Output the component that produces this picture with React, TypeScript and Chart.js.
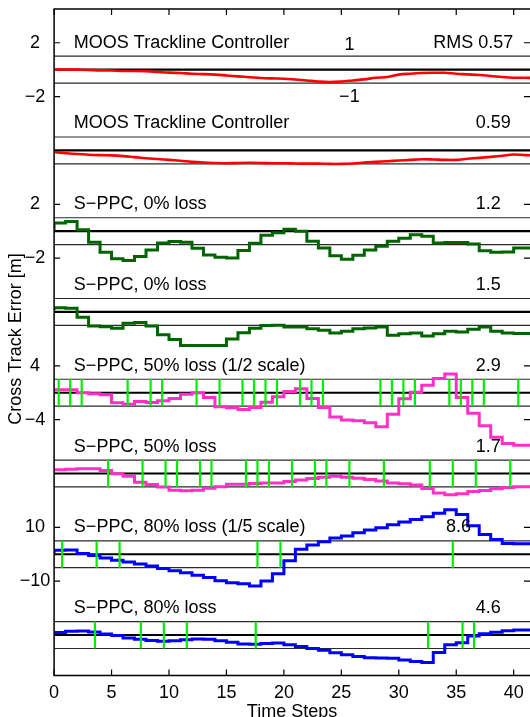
import React, { useEffect, useRef } from "react";
import { Chart, registerables } from "chart.js";

Chart.register(...registerables);

// ---------- data ----------
const TIME_STEPS = [0, 1, 2, 3, 4, 5, 6, 7, 8, 9, 10, 11, 12, 13, 14, 15, 16, 17, 18, 19, 20, 21, 22, 23, 24, 25, 26, 27, 28, 29, 30, 31, 32, 33, 34, 35, 36, 37, 38, 39, 40, 41, 42];

const PANEL_OFFSETS = [0, -6, -12, -18, -24, -30, -36, -42];

const PANEL_TITLES = [
  "MOOS Trackline Controller",
  "MOOS Trackline Controller",
  "S\u2212PPC, 0% loss",
  "S\u2212PPC, 0% loss",
  "S\u2212PPC, 50% loss (1/2 scale)",
  "S\u2212PPC, 50% loss",
  "S\u2212PPC, 80% loss (1/5 scale)",
  "S\u2212PPC, 80% loss",
];
const RMS_LABELS = ["RMS 0.57", "0.59", "1.2", "1.5", "2.9", "1.7", "8.6", "4.6"];
const RMS_LABEL_X = [33.0, 36.7, 36.7, 36.7, 36.7, 36.7, 34.1, 36.7];
const TITLE_X = 1.72;

// plotted values (display units, already scaled where noted)
const MOOS_RUN1 = [0.02, 0.01, 0, -0.02, -0.05, -0.06, -0.1, -0.1, -0.12, -0.17, -0.22, -0.25, -0.3, -0.33, -0.37, -0.43, -0.5, -0.56, -0.62, -0.65, -0.67, -0.73, -0.8, -0.88, -0.92, -0.88, -0.8, -0.72, -0.6, -0.55, -0.37, -0.3, -0.25, -0.23, -0.23, -0.3, -0.35, -0.4, -0.47, -0.55, -0.6, -0.6, -0.62];
const MOOS_RUN2 = [-0.12, -0.2, -0.27, -0.32, -0.35, -0.37, -0.42, -0.5, -0.58, -0.64, -0.7, -0.77, -0.85, -0.9, -0.93, -0.95, -0.93, -0.92, -0.93, -0.95, -0.95, -0.97, -0.98, -0.98, -1.0, -1.0, -0.97, -0.9, -0.85, -0.8, -0.75, -0.7, -0.65, -0.67, -0.7, -0.7, -0.62, -0.55, -0.48, -0.4, -0.3, -0.35, -0.37];
const SPPC_0_RUN1 = [0.1, 0.6, 0.72, 0.1, -0.82, -1.56, -2.05, -2.18, -1.88, -1.39, -0.87, -0.77, -0.82, -1.26, -1.76, -1.93, -2.0, -1.44, -0.89, -0.3, -0.12, 0.15, 0.0, -0.75, -1.25, -1.82, -2.08, -1.78, -1.4, -1.12, -0.75, -0.52, -0.27, -0.37, -0.88, -0.84, -0.84, -0.95, -1.45, -1.56, -1.55, -1.25, -1.25];
const SPPC_0_RUN2 = [0.15, 0.32, 0.27, -0.4, -1.04, -1.09, -1.21, -0.84, -0.79, -1.04, -1.7, -2.05, -2.5, -2.5, -2.5, -2.5, -2.0, -1.55, -1.21, -1.01, -0.98, -1.11, -1.11, -1.24, -1.36, -1.56, -1.44, -1.24, -1.19, -1.11, -1.73, -1.61, -1.56, -1.78, -1.61, -1.44, -1.49, -1.29, -1.11, -1.44, -1.56, -1.6, -1.6];
const SPPC_50_HALF = [0.12, 0.22, 0.22, 0.0, -0.08, -0.15, -0.75, -0.85, -0.65, -0.72, -0.6, -0.42, -0.12, 0.0, -0.35, -1.04, -1.12, -1.25, -1.1, -0.7, -0.3, 0.1, 0.3, -0.42, -1.1, -1.8, -2.03, -2.08, -2.23, -2.52, -1.6, -0.45, 0.03, 0.55, 1.06, 1.39, -0.35, -1.53, -2.45, -3.3, -3.78, -3.9, -3.9];
const SPPC_50 = [0.18, 0.28, 0.32, 0.35, 0.35, 0.22, -0.02, -0.2, -0.65, -0.82, -1.0, -1.25, -1.28, -1.25, -1.1, -0.98, -0.8, -0.8, -0.75, -0.7, -0.7, -0.6, -0.48, -0.38, -0.27, -0.2, -0.28, -0.36, -0.45, -0.55, -0.7, -0.77, -0.85, -1.12, -1.45, -1.58, -1.5, -1.33, -1.26, -1.14, -1.05, -0.98, -0.98];
const SPPC_80_FIFTH = [0.06, 0.3, 0.32, 0.05, -0.1, -0.28, -0.45, -0.57, -0.73, -0.88, -1.05, -1.23, -1.38, -1.56, -1.73, -1.97, -2.12, -2.2, -2.36, -1.98, -1.45, -0.48, 0.37, 0.68, 0.93, 1.2, 1.35, 1.6, 1.8, 1.97, 2.2, 2.4, 2.58, 2.78, 3.05, 3.3, 2.95, 2.12, 1.47, 1.1, 0.8, 0.78, 0.78];
const SPPC_80 = [0.0, 0.18, 0.28, 0.3, 0.22, 0.07, -0.03, -0.23, -0.32, -0.4, -0.47, -0.42, -0.36, -0.3, -0.32, -0.42, -0.53, -0.66, -0.68, -0.63, -0.6, -0.72, -0.85, -1.0, -1.14, -1.32, -1.47, -1.6, -1.68, -1.7, -1.72, -1.85, -1.97, -2.05, -1.3, -0.72, -0.58, -0.08, 0.1, 0.2, 0.32, 0.37, 0.37];

// packet-loss instants (green markers)
const LOSS_50_HALF = [0.4, 1.4, 2.4, 6.4, 8.4, 9.4, 12.4, 14.4, 16.4, 17.4, 18.4, 19.4, 21.4, 22.4, 23.4, 28.4, 29.4, 30.4, 31.4, 34.4, 35.4, 36.4, 37.4, 40.4];
const LOSS_50 = [4.7, 7.7, 9.7, 10.7, 12.7, 13.7, 16.7, 17.7, 18.7, 20.7, 22.7, 23.7, 25.7, 28.7, 32.7, 34.7, 36.7, 39.7];
const LOSS_80_FIFTH = [0.7, 3.7, 5.7, 17.7, 19.7, 34.7];
const LOSS_80 = [3.55, 7.55, 9.55, 11.55, 17.55, 32.55, 35.55, 36.55];

const X_MIN = 0;
const X_MAX = 41.42;
const Y_MIN = -45;
const Y_MAX = 4.5;
const X_TICK_VALUES = [0, 5, 10, 15, 20, 25, 30, 35, 40];
const Y_TICK_VALUES = [2, -2, -10, -14, -22, -26, -34, -38];
const Y_TICK_LABELS = ["2", "\u22122", "2", "\u22122", "4", "\u22124", "10", "\u221210"];
const BAND_NOTE_X = 25.7;
const BAND_NOTES = [
  { text: "1", y: 1.85 },
  { text: "\u22121", y: -2.05 },
];

const SERIES = [
  { vals: MOOS_RUN1, color: "#ff0000", stepped: false, width: 2.6 },
  { vals: MOOS_RUN2, color: "#ff0000", stepped: false, width: 2.6 },
  { vals: SPPC_0_RUN1, color: "#006400", stepped: true, width: 3 },
  { vals: SPPC_0_RUN2, color: "#006400", stepped: true, width: 3 },
  { vals: SPPC_50_HALF, color: "#ff2fc8", stepped: true, width: 3 },
  { vals: SPPC_50, color: "#ff2fc8", stepped: true, width: 3 },
  { vals: SPPC_80_FIFTH, color: "#0000ff", stepped: true, width: 3 },
  { vals: SPPC_80, color: "#0000ff", stepped: true, width: 3 },
];
const LOSS_BY_PANEL: (number[] | null)[] = [null, null, null, null, LOSS_50_HALF, LOSS_50, LOSS_80_FIFTH, LOSS_80];

const FONT = '18px "Liberation Sans", Arial, Helvetica, sans-serif';

const decorPlugin = {
  id: "decor",
  afterDraw(chart: any) {
    const { ctx, chartArea: a } = chart;
    const x = chart.scales.x;
    const y = chart.scales.y;
    ctx.save();
    // axes box (left, top, bottom)
    ctx.strokeStyle = "#000";
    ctx.lineWidth = 1.5;
    ctx.beginPath();
    ctx.moveTo(a.left, a.top);
    ctx.lineTo(a.right + 2, a.top);
    ctx.moveTo(a.left, a.top - 0.75);
    ctx.lineTo(a.left, a.bottom + 0.75);
    ctx.moveTo(a.left, a.bottom);
    ctx.lineTo(a.right + 2, a.bottom);
    ctx.stroke();
    // inward tick marks
    ctx.lineWidth = 1.2;
    ctx.beginPath();
    X_TICK_VALUES.forEach((v) => {
      const px = x.getPixelForValue(v);
      ctx.moveTo(px, a.top);
      ctx.lineTo(px, a.top + 6);
      ctx.moveTo(px, a.bottom);
      ctx.lineTo(px, a.bottom - 6);
    });
    Y_TICK_VALUES.forEach((v) => {
      const py = y.getPixelForValue(v);
      ctx.moveTo(a.left, py);
      ctx.lineTo(a.left + 6, py);
      ctx.moveTo(a.right, py);
      ctx.lineTo(a.right - 6, py);
    });
    ctx.stroke();

    ctx.fillStyle = "#000";
    ctx.font = FONT;
    // y tick labels
    ctx.textAlign = "center";
    ctx.textBaseline = "middle";
    Y_TICK_VALUES.forEach((v, i) => {
      ctx.fillText(Y_TICK_LABELS[i], a.left - 19.2, y.getPixelForValue(v));
    });
    // x tick labels
    X_TICK_VALUES.forEach((v) => {
      ctx.fillText(String(v), x.getPixelForValue(v), a.bottom + 17.6);
    });
    // panel titles and RMS values
    ctx.textAlign = "left";
    PANEL_OFFSETS.forEach((off, i) => {
      const py = y.getPixelForValue(off + 2);
      ctx.fillText(PANEL_TITLES[i], x.getPixelForValue(TITLE_X), py);
      ctx.fillText(RMS_LABELS[i], x.getPixelForValue(RMS_LABEL_X[i]), py);
    });
    // band notes (±1 m)
    ctx.textAlign = "center";
    BAND_NOTES.forEach((n) => {
      ctx.fillText(n.text, x.getPixelForValue(BAND_NOTE_X), y.getPixelForValue(PANEL_OFFSETS[0] + n.y));
    });
    // axis titles
    ctx.textBaseline = "alphabetic";
    ctx.fillText("Time Steps", (a.left + a.right) / 2, 717.3);
    ctx.save();
    ctx.translate(16.5, 339);
    ctx.rotate(-Math.PI / 2);
    ctx.textBaseline = "middle";
    ctx.fillText("Cross Track Error [m]", 0, 0);
    ctx.restore();
    ctx.restore();
  },
};

function buildDatasets() {
  const datasets: any[] = [];
  // green loss markers (on top)
  PANEL_OFFSETS.forEach((off, i) => {
    const loss = LOSS_BY_PANEL[i];
    if (!loss) return;
    const pts: any[] = [];
    loss.forEach((t) => {
      pts.push({ x: t, y: off + 1 }, { x: t, y: off - 1 }, { x: t, y: null });
    });
    datasets.push({
      data: pts,
      borderColor: "#00ee00",
      borderWidth: 2.2,
      pointRadius: 0,
      spanGaps: false,
      order: 0,
    });
  });
  // series
  PANEL_OFFSETS.forEach((off, i) => {
    const s = SERIES[i];
    datasets.push({
      data: TIME_STEPS.map((t, k) => ({ x: t, y: off + s.vals[k] })),
      borderColor: s.color,
      borderWidth: s.width,
      pointRadius: 0,
      stepped: s.stepped ? "after" : false,
      tension: s.stepped ? 0 : 0.35,
      borderJoinStyle: "miter",
      order: 1,
    });
  });
  // zero lines
  const zeroPts: any[] = [];
  const bandPts: any[] = [];
  PANEL_OFFSETS.forEach((off) => {
    zeroPts.push({ x: X_MIN, y: off }, { x: X_MAX + 1, y: off }, { x: X_MIN, y: null });
    bandPts.push({ x: X_MIN, y: off + 1 }, { x: X_MAX + 1, y: off + 1 }, { x: X_MIN, y: null });
    bandPts.push({ x: X_MIN, y: off - 1 }, { x: X_MAX + 1, y: off - 1 }, { x: X_MIN, y: null });
  });
  datasets.push({ data: zeroPts, borderColor: "#000", borderWidth: 2.2, pointRadius: 0, spanGaps: false, order: 2 });
  datasets.push({ data: bandPts, borderColor: "#2a2a2a", borderWidth: 1.2, pointRadius: 0, spanGaps: false, order: 3 });
  return datasets;
}

export default function App() {
  const ref = useRef<HTMLCanvasElement | null>(null);
  useEffect(() => {
    if (!ref.current) return;
    const chart = new Chart(ref.current, {
      type: "line",
      data: { datasets: buildDatasets() },
      options: {
        responsive: false,
        animation: false,
        devicePixelRatio: 1,
        events: [],
        layout: { padding: { left: 54.1, top: 9.1, right: 0, bottom: 41.6 } },
        plugins: { legend: { display: false }, tooltip: { enabled: false } },
        scales: {
          x: { type: "linear", min: X_MIN, max: X_MAX, display: false },
          y: { type: "linear", min: Y_MIN, max: Y_MAX, display: false },
        },
      } as any,
      plugins: [decorPlugin],
    });
    return () => chart.destroy();
  }, []);
  return (
    <div style={{ position: "absolute", left: 0, top: 0, width: 530, height: 717, background: "#fff" }}>
      <canvas ref={ref} width={530} height={717} style={{ display: "block" }} />
    </div>
  );
}
